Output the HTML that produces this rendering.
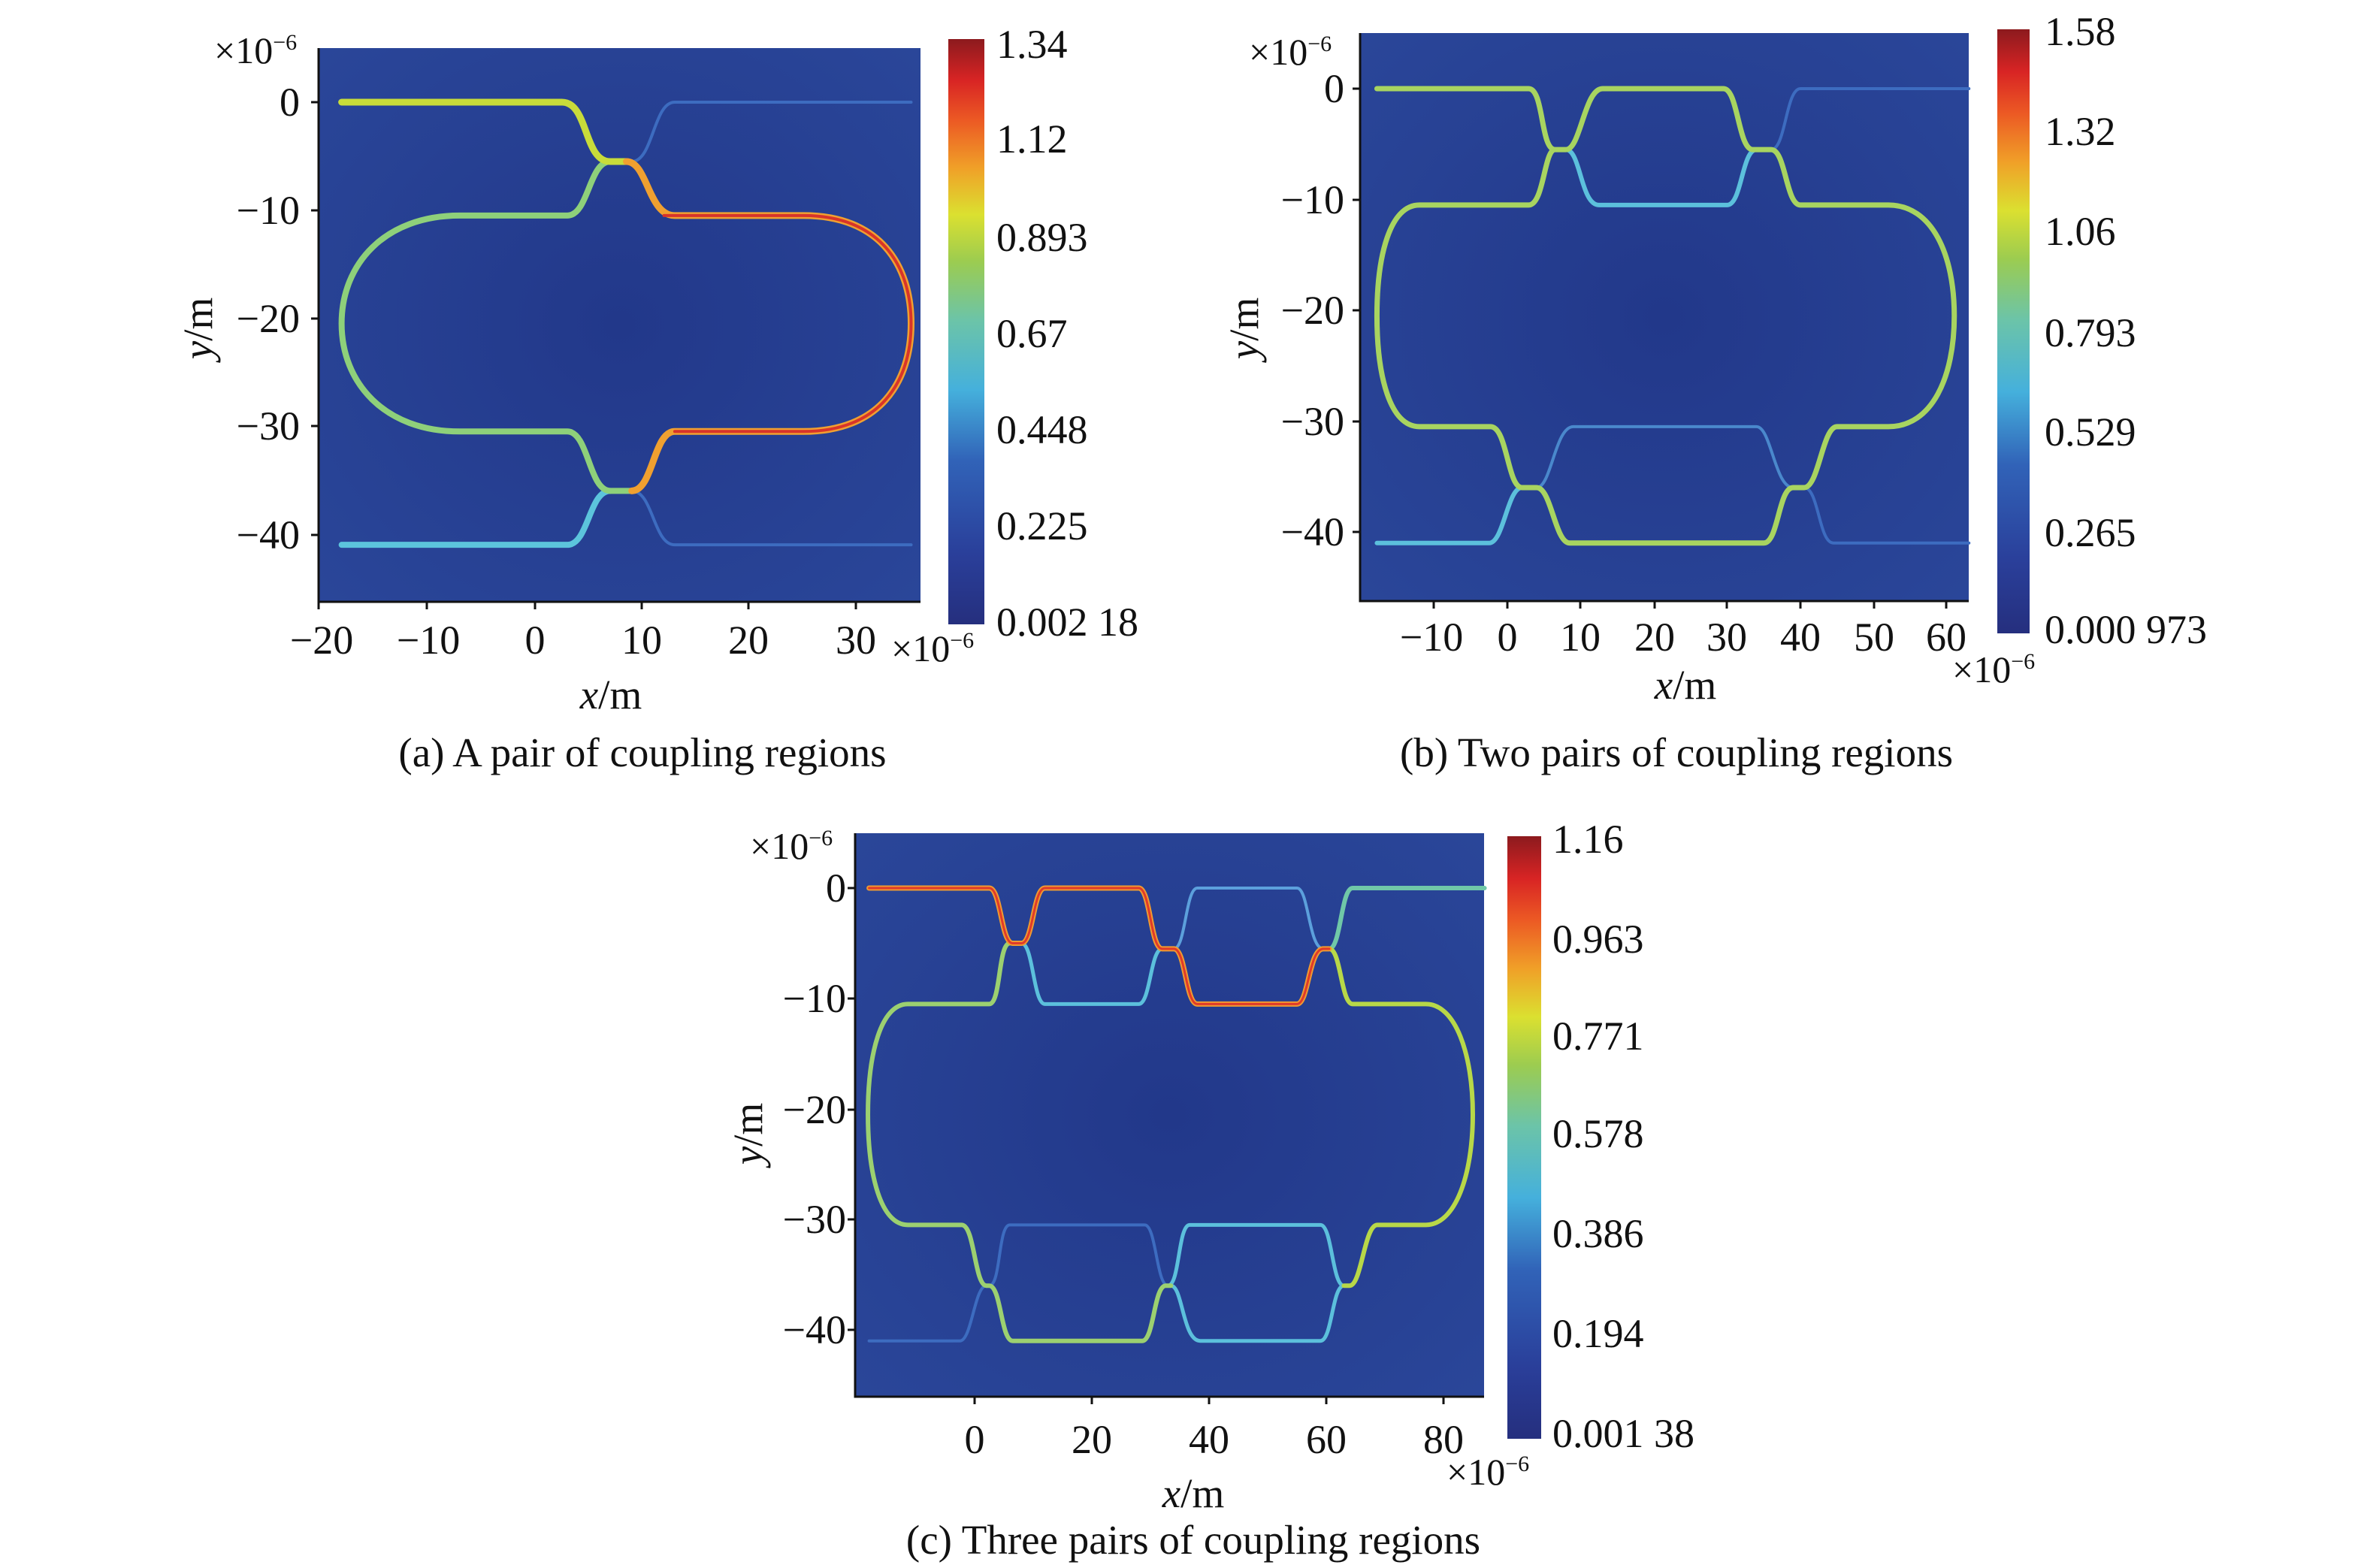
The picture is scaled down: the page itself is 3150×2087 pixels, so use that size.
<!DOCTYPE html>
<html><head><meta charset="utf-8"><style>
html,body{margin:0;padding:0;background:#fff;overflow:hidden;}
svg{display:block;}
text{font-family:"Liberation Serif",serif;fill:#111;}
.wg{fill:none;vector-effect:non-scaling-stroke;stroke-linecap:round;stroke-linejoin:round;}
</style></head><body>
<svg width="3150" height="2087" viewBox="0 0 3150 2087" xmlns="http://www.w3.org/2000/svg">
<defs>
<linearGradient id="jet" x1="0" y1="1" x2="0" y2="0">
<stop offset="0" stop-color="#252f7e"/>
<stop offset="0.12" stop-color="#2a3f9a"/>
<stop offset="0.28" stop-color="#3163b8"/>
<stop offset="0.4" stop-color="#45b0dc"/>
<stop offset="0.52" stop-color="#6cc4a8"/>
<stop offset="0.62" stop-color="#9ccc50"/>
<stop offset="0.7" stop-color="#dbe030"/>
<stop offset="0.78" stop-color="#f0a028"/>
<stop offset="0.86" stop-color="#ec5a24"/>
<stop offset="0.93" stop-color="#d82424"/>
<stop offset="1" stop-color="#8c1a1e"/>
</linearGradient>
<radialGradient id="bg" cx="0.5" cy="0.5" r="0.7">
<stop offset="0" stop-color="#22388a"/>
<stop offset="1" stop-color="#2a4699"/>
</radialGradient>
</defs>

<!-- ================= Panel (a) ================= -->
<rect x="424" y="64" width="801" height="737" fill="url(#bg)"/>
<g transform="translate(712,136) scale(14.3,-14.37)">
<path class="wg" stroke="#3d6cc0" stroke-width="4" d="M9,-5.5 C11,-5.5 11,0 13,0 L35,0 M9,-36 C11,-36 11,-41 13,-41 L35,-41"/>
<path class="wg" stroke="#5cc4dc" stroke-width="8" d="M-18,-41 L3,-41 C5,-41 5,-36 7,-36"/>
<path class="wg" stroke="#8ed07a" stroke-width="8" d="M7,-5.5 C5,-5.5 5,-10.5 3,-10.5 L-7,-10.5 C-14,-10.5 -18,-15 -18,-20.5 C-18,-26 -14,-30.5 -7,-30.5 L3,-30.5 C5,-30.5 5,-36 7,-36 L9,-36"/>
<path class="wg" stroke="#c8dc3a" stroke-width="9" d="M-18,0 L2.5,0 C5,0 4.5,-5.5 7,-5.5 L8.5,-5.5"/>
<path class="wg" stroke="#f0a030" stroke-width="9" d="M8.5,-5.5 C10.5,-5.5 10.5,-10.5 13,-10.5 L25,-10.5 C32,-10.5 35,-15 35,-20.5 C35,-26 32,-30.5 25,-30.5 L13,-30.5 C11,-30.5 11,-36 9,-36"/>
<path class="wg" stroke="#d8342a" stroke-width="4" d="M12,-10.5 L25,-10.5 C32,-10.5 35,-15 35,-20.5 C35,-26 32,-30.5 25,-30.5 L13,-30.5"/>
</g>
<path d="M424,64 V801 H1225" fill="none" stroke="#111" stroke-width="3"/>
<g stroke="#111" stroke-width="3">
<line x1="414" y1="136" x2="424" y2="136"/><line x1="414" y1="280" x2="424" y2="280"/><line x1="414" y1="424" x2="424" y2="424"/><line x1="414" y1="567" x2="424" y2="567"/><line x1="414" y1="712" x2="424" y2="712"/>
<line x1="424" y1="801" x2="424" y2="811"/><line x1="568" y1="801" x2="568" y2="811"/><line x1="712" y1="801" x2="712" y2="811"/><line x1="854" y1="801" x2="854" y2="811"/><line x1="996" y1="801" x2="996" y2="811"/><line x1="1139" y1="801" x2="1139" y2="811"/>
</g>
<g font-size="54" text-anchor="end">
<text x="399" y="154">0</text>
<text x="399" y="298">−10</text>
<text x="399" y="442">−20</text>
<text x="399" y="585">−30</text>
<text x="399" y="730">−40</text>
</g>
<g font-size="54" text-anchor="middle">
<text x="428" y="870">−20</text>
<text x="570" y="870">−10</text>
<text x="712" y="870">0</text>
<text x="854" y="870">10</text>
<text x="996" y="870">20</text>
<text x="1139" y="870">30</text>
</g>
<text x="285" y="84" font-size="50">×10<tspan font-size="30" dy="-18">−6</tspan></text>
<text x="1186" y="880" font-size="50">×10<tspan font-size="30" dy="-18">−6</tspan></text>
<text x="813" y="943" font-size="55" text-anchor="middle"><tspan font-style="italic">x</tspan>/m</text>
<text transform="translate(282,437) rotate(-90)" font-size="55" text-anchor="middle"><tspan font-style="italic">y</tspan>/m</text>
<rect x="1262" y="52" width="48" height="779" fill="url(#jet)"/>
<g font-size="54">
<text x="1326" y="77">1.34</text>
<text x="1326" y="203">1.12</text>
<text x="1326" y="334">0.893</text>
<text x="1326" y="462">0.67</text>
<text x="1326" y="590">0.448</text>
<text x="1326" y="718">0.225</text>
<text x="1326" y="846">0.002 18</text>
</g>
<text x="855" y="1020" font-size="55" text-anchor="middle">(a) A pair of coupling regions</text>

<!-- ================= Panel (b) ================= -->
<rect x="1810" y="44" width="810" height="756" fill="url(#bg)"/>
<g transform="translate(2006,118) scale(9.75,-14.75)">
<path class="wg" stroke="#3d6cc0" stroke-width="4" d="M36,-5.5 C38,-5.5 38,0 40,0 L63,0 M40.5,-36 C42.5,-36 42.5,-41 44.5,-41 L63,-41"/>
<path class="wg" stroke="#4a88cc" stroke-width="4" d="M4,-36 C6,-36 6.5,-30.5 9,-30.5 L34,-30.5 C36,-30.5 36.5,-36 39,-36"/>
<path class="wg" stroke="#5cc0dc" stroke-width="6" d="M8,-5.5 C10,-5.5 10,-10.5 12.5,-10.5 L30,-10.5 C32,-10.5 32,-5.5 34,-5.5 M-17.8,-41 L-2.5,-41 C-0.5,-41 0,-36 2,-36"/>
<path class="wg" stroke="#a8d460" stroke-width="7" d="M-17.8,0 L2.9,0 C5,0 4.5,-5.5 6.5,-5.5 L8,-5.5 C10,-5.5 10.5,0 13,0 L29.5,0 C31.5,0 31.5,-5.5 33.5,-5.5 L36,-5.5 C38,-5.5 38,-10.5 40,-10.5 L52,-10.5 C58,-10.5 61,-15 61,-20.5 C61,-26 58,-30.5 52,-30.5 L45,-30.5 C43,-30.5 42.5,-36 40.5,-36 L39,-36 C37,-36 37,-41 35,-41 L8.5,-41 C6.5,-41 6,-36 4,-36 L2,-36 C0,-36 0,-30.5 -2.3,-30.5 L-12,-30.5 C-16,-30.5 -17.8,-26 -17.8,-20.5 C-17.8,-15 -16,-10.5 -12,-10.5 L2.9,-10.5 C5,-10.5 5,-5.5 6.5,-5.5"/>
</g>
<path d="M1810,44 V800 H2620" fill="none" stroke="#111" stroke-width="3"/>
<g stroke="#111" stroke-width="3">
<line x1="1800" y1="118" x2="1810" y2="118"/><line x1="1800" y1="266" x2="1810" y2="266"/><line x1="1800" y1="413" x2="1810" y2="413"/><line x1="1800" y1="561" x2="1810" y2="561"/><line x1="1800" y1="708" x2="1810" y2="708"/>
<line x1="1908" y1="800" x2="1908" y2="810"/><line x1="2006" y1="800" x2="2006" y2="810"/><line x1="2103" y1="800" x2="2103" y2="810"/><line x1="2202" y1="800" x2="2202" y2="810"/><line x1="2298" y1="800" x2="2298" y2="810"/><line x1="2396" y1="800" x2="2396" y2="810"/><line x1="2494" y1="800" x2="2494" y2="810"/><line x1="2590" y1="800" x2="2590" y2="810"/>
</g>
<g font-size="54" text-anchor="end">
<text x="1789" y="136">0</text>
<text x="1789" y="284">−10</text>
<text x="1789" y="431">−20</text>
<text x="1789" y="579">−30</text>
<text x="1789" y="726">−40</text>
</g>
<g font-size="54" text-anchor="middle">
<text x="1905" y="866">−10</text>
<text x="2006" y="866">0</text>
<text x="2103" y="866">10</text>
<text x="2202" y="866">20</text>
<text x="2298" y="866">30</text>
<text x="2396" y="866">40</text>
<text x="2494" y="866">50</text>
<text x="2590" y="866">60</text>
</g>
<text x="1662" y="86" font-size="50">×10<tspan font-size="30" dy="-18">−6</tspan></text>
<text x="2598" y="908" font-size="50">×10<tspan font-size="30" dy="-18">−6</tspan></text>
<text x="2243" y="930" font-size="55" text-anchor="middle"><tspan font-style="italic">x</tspan>/m</text>
<text transform="translate(1674,437) rotate(-90)" font-size="55" text-anchor="middle"><tspan font-style="italic">y</tspan>/m</text>
<rect x="2658" y="39" width="43" height="804" fill="url(#jet)"/>
<g font-size="54">
<text x="2721" y="60">1.58</text>
<text x="2721" y="193">1.32</text>
<text x="2721" y="326">1.06</text>
<text x="2721" y="461">0.793</text>
<text x="2721" y="593">0.529</text>
<text x="2721" y="727">0.265</text>
<text x="2721" y="856">0.000 973</text>
</g>
<text x="2231" y="1020" font-size="55" text-anchor="middle">(b) Two pairs of coupling regions</text>

<!-- ================= Panel (c) ================= -->
<rect x="1138" y="1109" width="837" height="750" fill="url(#bg)"/>
<g transform="translate(1297,1182) scale(7.8,-14.7)">
<path class="wg" stroke="#3d6cc0" stroke-width="4" d="M-18,-41 L-2.5,-41 C-0.5,-41 0,-36 2,-36 M2.5,-36 C4.5,-36 4,-30.5 6,-30.5 L29,-30.5 C31,-30.5 31,-36 33,-36"/>
<path class="wg" stroke="#5ca0dc" stroke-width="4" d="M34,-5.5 C36,-5.5 36,0 38,0 L55,0 C57,0 57,-5.5 59.5,-5.5"/>
<path class="wg" stroke="#5cc0dc" stroke-width="5" d="M8,-5 C10,-5 10,-10.5 12,-10.5 L28,-10.5 C30,-10.5 30,-5.5 32,-5.5 M33.5,-36 C35.5,-36 35.5,-41 38.5,-41 L59,-41 C61,-41 61,-36 63,-36 M33,-36 C35,-36 34.7,-30.5 36.7,-30.5 L59,-30.5 C61,-30.5 61,-36 63,-36"/>
<path class="wg" stroke="#70c8a8" stroke-width="6" d="M60.5,-5.5 C62.5,-5.5 62.5,0 64.5,0 L87,0"/>
<path class="wg" stroke="#9cd070" stroke-width="6" d="M6,-5 C4,-5 4.5,-10.5 2.5,-10.5 L-11.4,-10.5 C-16,-10.5 -18.2,-15 -18.2,-20.5 C-18.2,-26 -16,-30.5 -11.4,-30.5 L-2.2,-30.5 C0,-30.5 0,-36 2,-36 L2.5,-36 C4.5,-36 4.5,-41 6.5,-41 L28.6,-41 C30.6,-41 30.6,-36 32.6,-36 L33.5,-36"/>
<path class="wg" stroke="#b8d848" stroke-width="6" d="M60.5,-5.5 C62.5,-5.5 62.5,-10.5 64.5,-10.5 L77,-10.5 C82,-10.5 85,-15 85,-20.5 C85,-26 82,-30.5 77,-30.5 L68.7,-30.5 C66.5,-30.5 66,-36 64,-36 L63,-36"/>
<path class="wg" stroke="#f09a30" stroke-width="7" d="M-18,0 L2.5,0 C4.5,0 4.5,-5 6.5,-5 L8,-5 C10,-5 10,0 12,0 L28,0 C30,0 30,-5.5 32,-5.5 L34,-5.5 C36,-5.5 36,-10.5 38,-10.5 L55,-10.5 C57,-10.5 57,-5.5 59.5,-5.5 L60.5,-5.5"/>
<path class="wg" stroke="#e03a2a" stroke-width="3" d="M-18,0 L2.5,0 C4.5,0 4.5,-5 6.5,-5 L8,-5 C10,-5 10,0 12,0 L28,0 C30,0 30,-5.5 32,-5.5 L34,-5.5 C36,-5.5 36,-10.5 38,-10.5 L55,-10.5 C57,-10.5 57,-5.5 59.5,-5.5 L60.5,-5.5"/>
</g>
<path d="M1138,1109 V1859 H1975" fill="none" stroke="#111" stroke-width="3"/>
<g stroke="#111" stroke-width="3">
<line x1="1128" y1="1182" x2="1138" y2="1182"/><line x1="1128" y1="1329" x2="1138" y2="1329"/><line x1="1128" y1="1477" x2="1138" y2="1477"/><line x1="1128" y1="1623" x2="1138" y2="1623"/><line x1="1128" y1="1770" x2="1138" y2="1770"/>
<line x1="1297" y1="1859" x2="1297" y2="1869"/><line x1="1453" y1="1859" x2="1453" y2="1869"/><line x1="1609" y1="1859" x2="1609" y2="1869"/><line x1="1765" y1="1859" x2="1765" y2="1869"/><line x1="1921" y1="1859" x2="1921" y2="1869"/>
</g>
<g font-size="54" text-anchor="end">
<text x="1126" y="1200">0</text>
<text x="1126" y="1347">−10</text>
<text x="1126" y="1495">−20</text>
<text x="1126" y="1641">−30</text>
<text x="1126" y="1788">−40</text>
</g>
<g font-size="54" text-anchor="middle">
<text x="1297" y="1934">0</text>
<text x="1453" y="1934">20</text>
<text x="1609" y="1934">40</text>
<text x="1765" y="1934">60</text>
<text x="1921" y="1934">80</text>
</g>
<text x="998" y="1143" font-size="50">×10<tspan font-size="30" dy="-18">−6</tspan></text>
<text x="1925" y="1976" font-size="50">×10<tspan font-size="30" dy="-18">−6</tspan></text>
<text x="1588" y="2006" font-size="55" text-anchor="middle"><tspan font-style="italic">x</tspan>/m</text>
<text transform="translate(1014,1509) rotate(-90)" font-size="55" text-anchor="middle"><tspan font-style="italic">y</tspan>/m</text>
<rect x="2006" y="1113" width="45" height="802" fill="url(#jet)"/>
<g font-size="54">
<text x="2066" y="1135">1.16</text>
<text x="2066" y="1268">0.963</text>
<text x="2066" y="1397">0.771</text>
<text x="2066" y="1527">0.578</text>
<text x="2066" y="1660">0.386</text>
<text x="2066" y="1793">0.194</text>
<text x="2066" y="1926">0.001 38</text>
</g>
<text x="1588" y="2068" font-size="55" text-anchor="middle">(c) Three pairs of coupling regions</text>
</svg>
</body></html>
